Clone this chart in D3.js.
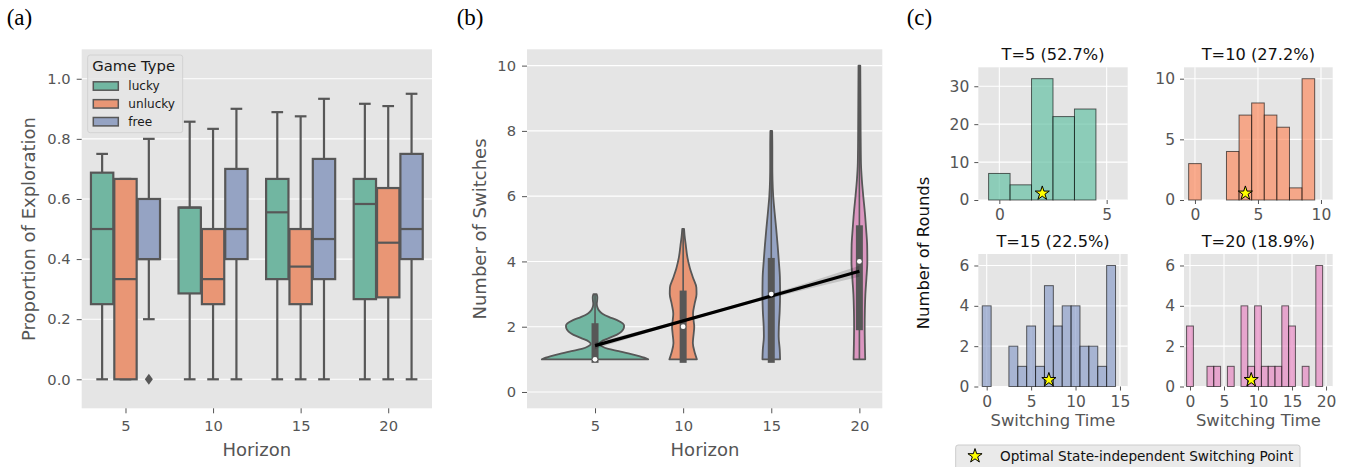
<!DOCTYPE html>
<html><head><meta charset="utf-8">
<script src="https://cdn.jsdelivr.net/npm/d3@7"></script>
<style>
body{margin:0;background:#fff;}
svg{display:block;font-family:"DejaVu Sans",sans-serif;}
</style>
</head><body>
<svg id="fig" width="1346" height="467"></svg>
<script>
// ---------------- DATA ----------------
// (a) Proportion of exploration box plots
const horizons = [5, 10, 15, 20];
const gameTypes = ["lucky", "unlucky", "free"];
const gameColors = ["#71b6a1", "#e99675", "#95a3c3"];
// [lower whisker, q1, median, q3, upper whisker] for horizons 5, 10, 15, 20
const luckyStats   = [[0, 0.25, 0.5, 0.6875, 0.75], [0, 0.2857, 0.5714, 0.5714, 0.8571], [0, 0.3333, 0.5556, 0.6667, 0.8889], [0, 0.2667, 0.5833, 0.6667, 0.9167]];
const unluckyStats = [[0, 0, 0.3333, 0.6667, 0.6667], [0, 0.25, 0.3333, 0.5, 0.8333], [0, 0.25, 0.375, 0.5, 0.875], [0, 0.2727, 0.4545, 0.6364, 0.9091]];
const freeStats    = [[0.2, 0.4, 0.4, 0.6, 0.8], [0, 0.4, 0.5, 0.7, 0.9], [0, 0.3333, 0.4667, 0.7333, 0.9333], [0, 0.4, 0.5, 0.75, 0.95]];
const luckyOutliers = [[], [], [], []];
const unluckyOutliers = [[], [], [], []];
const freeOutliers = [[0], [], [], []];
const propTicks = [0, 0.2, 0.4, 0.6, 0.8, 1.0];

// (b) Number of switches violins
const switchTicks = [0, 2, 4, 6, 8, 10];
const violinColors = ["#71b6a1", "#e99675", "#95a3c3", "#db96c0"];
// violin outline: levels (number of switches) and half-widths (in horizon units)
const violinLevels5  = [1.0, 1.05, 1.1, 1.17, 1.25, 1.32, 1.4, 1.47, 1.55, 1.65, 1.75, 1.85, 1.95, 2.03, 2.1, 2.2, 2.3, 2.4, 2.5, 2.6, 2.7, 2.8, 2.9, 3.0];
const violinWidths5  = [3.02, 2.8, 2.5, 2.0, 1.35, 0.75, 0.38, 0.24, 0.36, 0.78, 1.22, 1.5, 1.63, 1.65, 1.57, 1.25, 0.78, 0.42, 0.22, 0.13, 0.1, 0.12, 0.13, 0.09];
const violinLevels10 = [1.0, 1.2, 1.5, 1.8, 2.0, 2.2, 2.4, 2.7, 3.0, 3.2, 3.5, 3.8, 4.1, 4.5, 4.8, 5.0];
const violinWidths10 = [0.78, 0.66, 0.55, 0.6, 0.63, 0.59, 0.56, 0.65, 0.76, 0.75, 0.56, 0.38, 0.25, 0.15, 0.08, 0.05];
const violinLevels15 = [1.0, 1.3, 1.7, 2.0, 2.5, 3.0, 3.5, 4.0, 4.5, 5.0, 5.5, 6.0, 6.5, 7.0, 7.5, 8.0];
const violinWidths15 = [0.5, 0.48, 0.42, 0.43, 0.48, 0.5, 0.49, 0.43, 0.36, 0.28, 0.19, 0.11, 0.07, 0.06, 0.06, 0.05];
const violinLevels20 = [1.0, 1.5, 2.0, 2.5, 3.0, 3.5, 4.0, 4.5, 5.0, 5.5, 6.0, 6.5, 7.0, 8.0, 9.0, 10.0];
const violinWidths20 = [0.33, 0.31, 0.3, 0.31, 0.34, 0.4, 0.45, 0.44, 0.38, 0.31, 0.22, 0.14, 0.09, 0.07, 0.06, 0.05];
// [min, q1, median, q3, max]
const violinStats = [[1, 1, 1, 2, 3], [1, 1, 2, 3, 5], [1, 1, 3, 4, 8], [1, 2, 4, 5, 10]];
const regX = [5, 20];
const regY = [1.42, 3.70];
const ciX    = [5, 8, 11, 14, 17, 20];
const ciLow  = [1.32, 1.82, 2.29, 2.74, 3.15, 3.53];
const ciHigh = [1.52, 1.93, 2.37, 2.84, 3.34, 3.87];

// (c) Switching-time histograms
const histTitles = ["T=5 (52.7%)", "T=10 (27.2%)", "T=15 (22.5%)", "T=20 (18.9%)"];
const histT5  = [7, 4, 32, 22, 24];
const histT10 = [3, 0, 0, 4, 7, 8, 7, 6, 1, 10];
const histT15 = [4, 0, 0, 2, 1, 3, 1, 5, 3, 4, 4, 2, 2, 1, 6];
const histT20 = [3, 0, 0, 1, 1, 0, 1, 0, 4, 1, 4, 1, 1, 1, 4, 3, 0, 1, 0, 6];
const histColors = ["#66c2a5", "#fc8d62", "#8da0cb", "#e78ac3"];
const optimalSwitch = [2, 4, 7, 9];
const histXTicks = [[0, 5], [0, 5, 10], [0, 5, 10, 15], [0, 5, 10, 15, 20]];
const histYTicks = [[0, 10, 20, 30], [0, 5, 10], [0, 2, 4, 6], [0, 2, 4, 6]];

// ---------------- DRAWING ----------------
const svg = d3.select("#fig");
const lineGray = "#575757";
const tickGray = "#555555";
const bg = "#e5e5e5";
const intFmt = d3.format("d");

function styleAxis(g, fs) {
  g.select(".domain").remove();
  g.selectAll(".tick line").attr("stroke", tickGray).attr("stroke-width", 1);
  g.selectAll(".tick text").attr("fill", tickGray).attr("font-size", fs)
    .attr("font-family", "DejaVu Sans");
}

// ===== Panel (a) =====
const A = {x0: 81.7, x1: 432, y0: 49.3, y1: 408.3};
const xA = d3.scaleBand().domain(horizons).range([A.x0, A.x1]).paddingInner(0.2).paddingOuter(0.1);
const xHue = d3.scaleBand().domain(gameTypes).range([0, xA.bandwidth()]);
const yA = d3.scaleLinear().domain([-0.0965, 1.098]).range([A.y1, A.y0]);
const gA = svg.append("g");
gA.append("rect").attr("x", A.x0).attr("y", A.y0).attr("width", A.x1 - A.x0).attr("height", A.y1 - A.y0).attr("fill", bg);
gA.selectAll(".grid").data(propTicks).join("line")
  .attr("x1", A.x0).attr("x2", A.x1).attr("y1", d => yA(d)).attr("y2", d => yA(d))
  .attr("stroke", "#fff").attr("stroke-width", 1.1);
const axAy = gA.append("g").attr("transform", `translate(${A.x0},0)`)
  .call(d3.axisLeft(yA).tickValues(propTicks).tickFormat(d3.format(".1f")).tickSize(5).tickPadding(6));
styleAxis(axAy, 14.7);
const axAx = gA.append("g").attr("transform", `translate(0,${A.y1})`)
  .call(d3.axisBottom(d3.scalePoint().domain(horizons).range([xA(5) + xA.bandwidth() / 2, xA(20) + xA.bandwidth() / 2])).tickSize(5).tickPadding(7));
styleAxis(axAx, 14.7);

const statsByType = [luckyStats, unluckyStats, freeStats];
const outByType = [luckyOutliers, unluckyOutliers, freeOutliers];
gameTypes.forEach((t, ti) => {
  horizons.forEach((h, hi) => {
    const s = statsByType[ti][hi];
    const bx = xA(h) + xHue(t);
    const bw = xHue.bandwidth();
    const cx = bx + bw / 2;
    const g = gA.append("g");
    g.append("line").attr("x1", cx).attr("x2", cx).attr("y1", yA(s[0])).attr("y2", yA(s[1])).attr("stroke", lineGray).attr("stroke-width", 2.2);
    g.append("line").attr("x1", cx).attr("x2", cx).attr("y1", yA(s[3])).attr("y2", yA(s[4])).attr("stroke", lineGray).attr("stroke-width", 2.2);
    [s[0], s[4]].forEach(v => {
      g.append("line").attr("x1", cx - bw / 4).attr("x2", cx + bw / 4).attr("y1", yA(v)).attr("y2", yA(v)).attr("stroke", lineGray).attr("stroke-width", 2.2);
    });
    g.append("rect").attr("x", bx + 0.5).attr("width", bw - 1).attr("y", yA(s[3])).attr("height", Math.max(0.1, yA(s[1]) - yA(s[3])))
      .attr("fill", gameColors[ti]).attr("stroke", lineGray).attr("stroke-width", 2.2);
    g.append("line").attr("x1", bx + 0.5).attr("x2", bx + bw - 0.5).attr("y1", yA(s[2])).attr("y2", yA(s[2])).attr("stroke", lineGray).attr("stroke-width", 2.2);
    outByType[ti][hi].forEach(v => {
      g.append("path").attr("transform", `translate(${cx},${yA(v)})`)
        .attr("d", "M0,-5.5L4,0L0,5.5L-4,0Z").attr("fill", lineGray);
    });
  });
});
// legend (a)
const legA = gA.append("g");
legA.append("rect").attr("x", 87.7).attr("y", 55).attr("width", 95).attr("height", 77.7).attr("rx", 2.5)
  .attr("fill", bg).attr("fill-opacity", 0.85).attr("stroke", "#d2d2d2").attr("stroke-width", 1);
legA.append("text").attr("x", 92.3).attr("y", 70.8).attr("font-size", 14.8).attr("fill", "#1a1a1a").text("Game Type");
gameTypes.forEach((t, i) => {
  const cy = 86 + i * 17.85;
  legA.append("rect").attr("x", 93.3).attr("y", cy - 4.2).attr("width", 25).attr("height", 8.4)
    .attr("fill", gameColors[i]).attr("stroke", lineGray).attr("stroke-width", 1.5);
  legA.append("text").attr("x", 128.3).attr("y", cy + 4.3).attr("font-size", 12.1).attr("fill", "#1a1a1a").text(t);
});
gA.append("text").attr("transform", `translate(35,229) rotate(-90)`).attr("text-anchor", "middle")
  .attr("font-size", 18).attr("fill", tickGray).text("Proportion of Exploration");
gA.append("text").attr("x", (A.x0 + A.x1) / 2).attr("y", 455.5).attr("text-anchor", "middle")
  .attr("font-size", 18).attr("fill", tickGray).text("Horizon");

// ===== Panel (b) =====
const B = {x0: 527, x1: 882.3, y0: 49.3, y1: 408.3};
const xB = d3.scaleLinear().domain([1.14, 21.3]).range([B.x0, B.x1]);
const yB = d3.scaleLinear().domain([-0.5, 10.5]).range([B.y1, B.y0]);
const gB = svg.append("g");
gB.append("rect").attr("x", B.x0).attr("y", B.y0).attr("width", B.x1 - B.x0).attr("height", B.y1 - B.y0).attr("fill", bg);
gB.selectAll(".grid").data(switchTicks).join("line")
  .attr("x1", B.x0).attr("x2", B.x1).attr("y1", d => yB(d)).attr("y2", d => yB(d))
  .attr("stroke", "#fff").attr("stroke-width", 1.1);
const axBy = gB.append("g").attr("transform", `translate(${B.x0},0)`)
  .call(d3.axisLeft(yB).tickValues(switchTicks).tickFormat(intFmt).tickSize(5).tickPadding(6));
styleAxis(axBy, 14.7);
const axBx = gB.append("g").attr("transform", `translate(0,${B.y1})`)
  .call(d3.axisBottom(xB).tickValues(horizons).tickFormat(intFmt).tickSize(5).tickPadding(7));
styleAxis(axBx, 14.7);

const violinLevels = [violinLevels5, violinLevels10, violinLevels15, violinLevels20];
const violinWidths = [violinWidths5, violinWidths10, violinWidths15, violinWidths20];
horizons.forEach((h, i) => {
  const pts = violinLevels[i].map((lv, k) => [lv, violinWidths[i][k]]);
  const area = d3.area().curve(d3.curveMonotoneY)
    .y(d => yB(d[0])).x0(d => xB(h - d[1])).x1(d => xB(h + d[1]));
  gB.append("path").attr("d", area(pts)).attr("fill", violinColors[i])
    .attr("stroke", lineGray).attr("stroke-width", 1.8).attr("stroke-linejoin", "round");
  const s = violinStats[i];
  gB.append("line").attr("x1", xB(h)).attr("x2", xB(h)).attr("y1", yB(s[0])).attr("y2", yB(s[4]))
    .attr("stroke", lineGray).attr("stroke-width", 1.6);
  gB.append("line").attr("x1", xB(h)).attr("x2", xB(h)).attr("y1", yB(s[1])).attr("y2", yB(s[3]))
    .attr("stroke", lineGray).attr("stroke-width", 7).attr("stroke-linecap", "square");
});
const band = d3.area().x((d, k) => xB(ciX[k])).y0((d, k) => yB(ciLow[k])).y1((d, k) => yB(ciHigh[k]));
gB.append("path").attr("d", band(ciX)).attr("fill", "#000").attr("fill-opacity", 0.15);
gB.append("path").attr("d", d3.line().x((d, k) => xB(regX[k])).y((d, k) => yB(regY[k]))(regX))
  .attr("stroke", "#000").attr("stroke-width", 3.2).attr("fill", "none");
horizons.forEach((h, i) => {
  gB.append("circle").attr("cx", xB(h)).attr("cy", yB(violinStats[i][2])).attr("r", 2.4).attr("fill", "#fff");
});
gB.append("text").attr("transform", `translate(486,229) rotate(-90)`).attr("text-anchor", "middle")
  .attr("font-size", 18).attr("fill", tickGray).text("Number of Switches");
gB.append("text").attr("x", 705).attr("y", 455.5).attr("text-anchor", "middle")
  .attr("font-size", 18).attr("fill", tickGray).text("Horizon");

// ===== Panel (c) =====
const hists = [histT5, histT10, histT15, histT20];
const cRects = [
  {x0: 978.3, x1: 1127.7, y0: 67.3, y1: 200, xd: [-0.98, 5.98], yd: [0, 35.0]},
  {x0: 1184, x1: 1332.7, y0: 67.3, y1: 200, xd: [-0.87, 10.93], yd: [0, 10.94]},
  {x0: 978.3, x1: 1127.7, y0: 254, y1: 386.5, xd: [-0.945, 15.87], yd: [0, 6.57]},
  {x0: 1184, x1: 1332.7, y0: 254, y1: 386.5, xd: [-0.88, 20.98], yd: [0, 6.57]}
];
const gC = svg.append("g");
const starPath = d3.symbol().type(d3.symbolStar).size(62)();
hists.forEach((counts, i) => {
  const r = cRects[i];
  const xs = d3.scaleLinear().domain(r.xd).range([r.x0, r.x1]);
  const ys = d3.scaleLinear().domain(r.yd).range([r.y1, r.y0]);
  const g = gC.append("g");
  g.append("rect").attr("x", r.x0).attr("y", r.y0).attr("width", r.x1 - r.x0).attr("height", r.y1 - r.y0).attr("fill", bg);
  g.selectAll(".gy").data(histYTicks[i]).join("line")
    .attr("x1", r.x0).attr("x2", r.x1).attr("y1", d => ys(d)).attr("y2", d => ys(d)).attr("stroke", "#fff").attr("stroke-width", 1.1);
  g.selectAll(".gx").data(histXTicks[i]).join("line")
    .attr("y1", r.y0).attr("y2", r.y1).attr("x1", d => xs(d)).attr("x2", d => xs(d)).attr("stroke", "#fff").attr("stroke-width", 1.1);
  const bars = counts.map((c, k) => ({k, c})).filter(d => d.c > 0);
  g.selectAll(".bar").data(bars).join("rect")
    .attr("x", d => xs(d.k - 0.5)).attr("width", d => xs(d.k + 0.5) - xs(d.k - 0.5))
    .attr("y", d => ys(d.c)).attr("height", d => ys(0) - ys(d.c))
    .attr("fill", histColors[i]).attr("fill-opacity", 0.7)
    .attr("stroke", "#000").attr("stroke-opacity", 0.6).attr("stroke-width", 1);
  const ay = g.append("g").attr("transform", `translate(${r.x0},0)`)
    .call(d3.axisLeft(ys).tickValues(histYTicks[i]).tickFormat(intFmt).tickSize(4).tickPadding(5));
  styleAxis(ay, 15.5);
  const ax = g.append("g").attr("transform", `translate(0,${r.y1})`)
    .call(d3.axisBottom(xs).tickValues(histXTicks[i]).tickFormat(intFmt).tickSize(4).tickPadding(5));
  styleAxis(ax, 15.5);
  g.append("path").attr("d", starPath)
    .attr("transform", `translate(${xs(optimalSwitch[i])},${r.y1 - 0.05 * (r.y1 - r.y0)})`)
    .attr("fill", "#ffff00").attr("stroke", "#000").attr("stroke-width", 1);
  g.append("text").attr("x", (r.x0 + r.x1) / 2).attr("y", r.y0 - 7.5).attr("text-anchor", "middle")
    .attr("font-size", 16.2).attr("fill", "#111").text(histTitles[i]);
  if (i >= 2) {
    g.append("text").attr("x", (r.x0 + r.x1) / 2).attr("y", 426).attr("text-anchor", "middle")
      .attr("font-size", 16.4).attr("fill", tickGray).text("Switching Time");
  }
});
gC.append("text").attr("transform", `translate(929,253) rotate(-90)`).attr("text-anchor", "middle")
  .attr("font-size", 16.4).attr("fill", "#111").text("Number of Rounds");
// legend (c)
gC.append("rect").attr("x", 955.7).attr("y", 445).attr("width", 344.3).attr("height", 30).attr("rx", 2.5)
  .attr("fill", bg).attr("fill-opacity", 0.8).attr("stroke", "#cccccc").attr("stroke-width", 1);
gC.append("path").attr("d", starPath).attr("transform", "translate(975,456)")
  .attr("fill", "#ffff00").attr("stroke", "#000").attr("stroke-width", 1);
gC.append("text").attr("x", 1000).attr("y", 460.5).attr("font-size", 13.6).attr("fill", "#111")
  .text("Optimal State-independent Switching Point");

// panel letters
[["(a)", 6.7], ["(b)", 456.7], ["(c)", 906.7]].forEach(([t, x]) => {
  svg.append("text").attr("x", x).attr("y", 24.5).attr("font-family", "Liberation Serif, serif")
    .attr("font-size", 23).attr("fill", "#000").text(t);
});
</script>
</body></html>
